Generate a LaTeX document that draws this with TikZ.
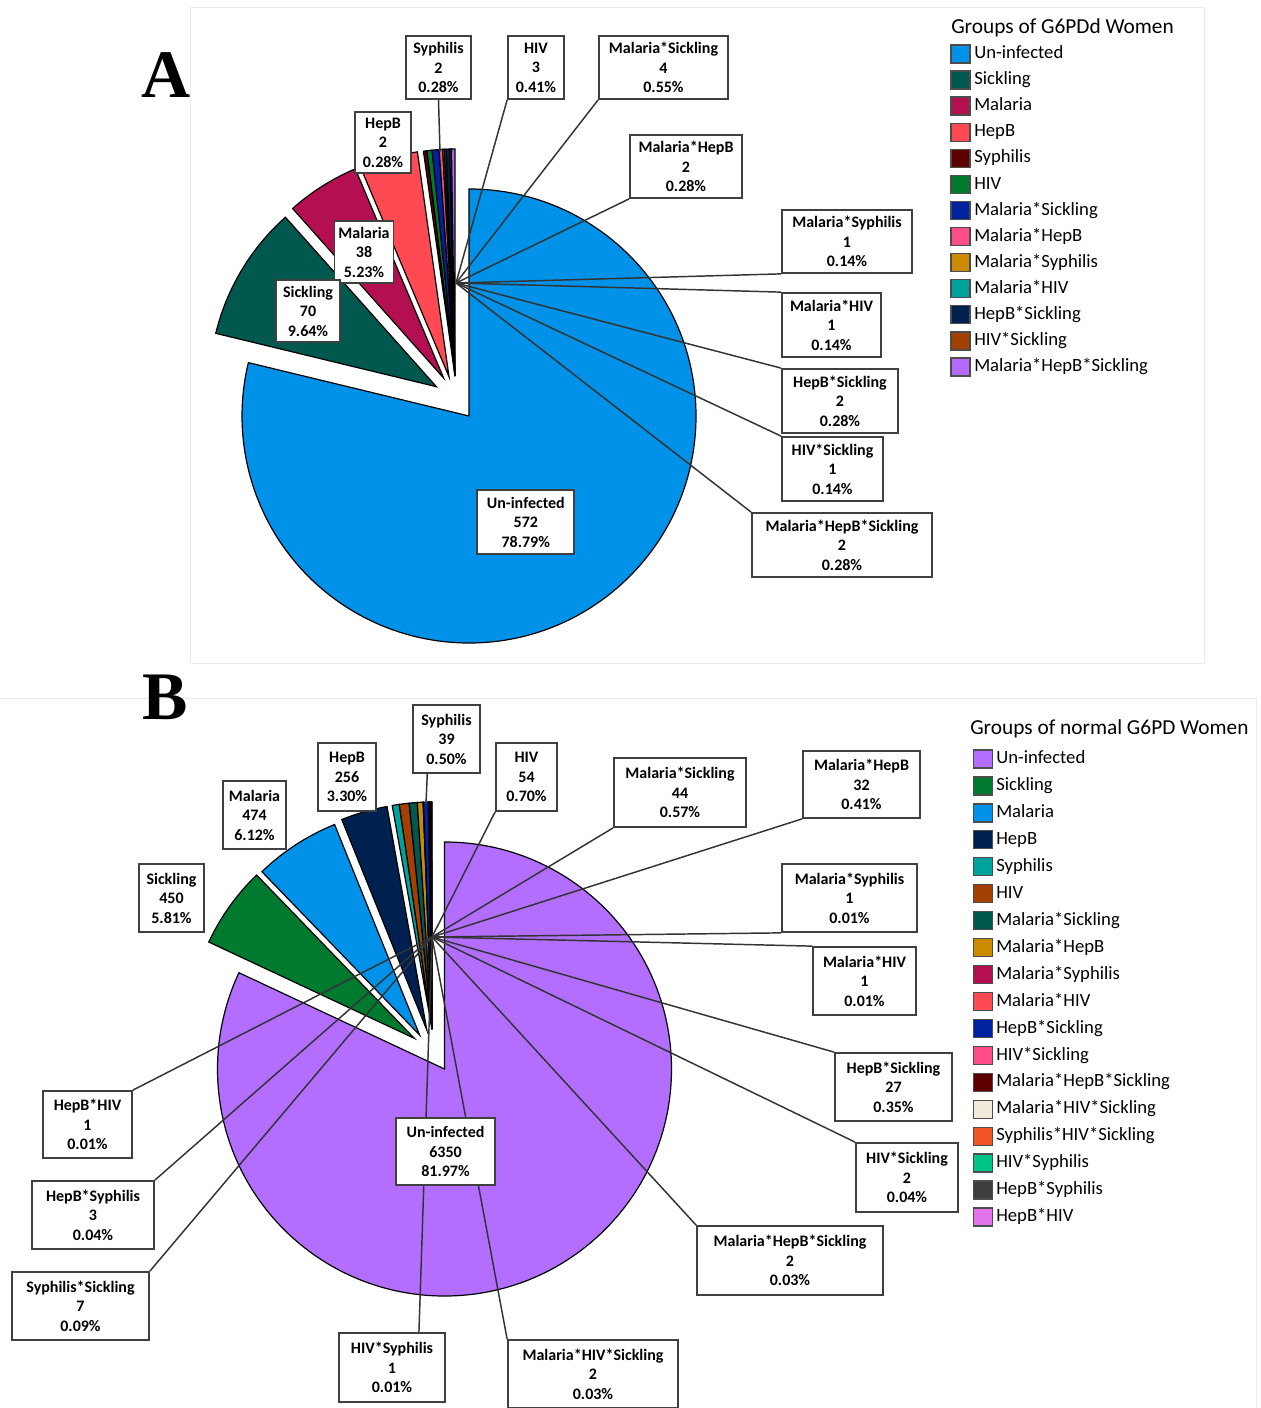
\documentclass[tikz,border=0pt]{standalone}
\usepackage{fontspec}
\setmainfont{Carlito}
\newfontfamily\serifbf{Liberation Serif}
\usetikzlibrary{calc}
\definecolor{cUn}{HTML}{0092E8}
\definecolor{cSick}{HTML}{00584F}
\definecolor{cMal}{HTML}{B40F50}
\definecolor{cHepB}{HTML}{FF4A54}
\definecolor{cSyph}{HTML}{5E0000}
\definecolor{cHIV}{HTML}{007A2E}
\definecolor{cMS}{HTML}{0022A0}
\definecolor{cMH}{HTML}{FF4D8C}
\definecolor{cMSy}{HTML}{CC8A00}
\definecolor{cMHIV}{HTML}{00A39C}
\definecolor{cHS}{HTML}{00204F}
\definecolor{cHIVS}{HTML}{A33F00}
\definecolor{cMHS}{HTML}{B36BFF}
\definecolor{cUnB}{HTML}{B36EFF}
\definecolor{cCream}{HTML}{F2EAD8}
\definecolor{cOrange}{HTML}{F25324}
\definecolor{cHIVSy}{HTML}{00C487}
\definecolor{cGray}{HTML}{3E3E3E}
\definecolor{cOrchid}{HTML}{E273EA}
\newcommand{\pieslice}[6]{\filldraw[slice,fill=#6] (#1,#2) -- ++(#4:#3) arc[start angle=#4,end angle=#5,radius=#3] -- cycle;}
\begin{document}
\begin{tikzpicture}[x=0.75pt,y=-0.75pt,
  slice/.style={draw=black,line width=0.9pt},
  lead/.style={draw=black!80,line width=1.1pt},
  lbox/.style 2 args={draw=black!75,line width=1.3pt,fill=white,inner sep=0pt,align=center,
    font=\bfseries\fontsize{12}{14.6}\selectfont,minimum width=#1*0.75pt,minimum height=#2*0.75pt},
  swatch/.style={draw=black!70,line width=1pt,minimum width=14.25pt,minimum height=13.5pt,inner sep=0pt},
  legtext/.style={anchor=west,inner sep=0pt,font=\fontsize{14}{16}\selectfont,text height=10pt,text depth=3pt},
  ttl/.style={anchor=west,inner sep=0pt,font=\fontsize{16}{19}\selectfont},
  panel/.style={draw=black!8,line width=0.75pt},
  letter/.style={inner sep=0pt,font=\serifbf\bfseries\fontsize{51}{51}\selectfont}]
\useasboundingbox (0,0) rectangle (1260,1408);
% panel frames
\draw[panel] (190,8) rectangle (1204,663);
\draw[panel] (0,698) -- (1256,698) -- (1256,1408);
\node[letter] (letA) at (166,75) {A};
\node[letter] (letB) at (165,697) {B};

% ---------------- Pie A ----------------
\pieslice{469}{416}{227}{-90}{193.6}{cUn}
\pieslice{436.4}{386.7}{227}{-166.4}{-131.7}{cSick}
\pieslice{443.6}{378}{227}{-131.7}{-112.9}{cMal}
\pieslice{449}{376.7}{227}{-112.9}{-98}{cHepB}
\pieslice{455}{376}{227}{-98}{-97.111}{cSyph}
\pieslice{455}{376}{227}{-97.111}{-95.778}{cHIV}
\pieslice{455}{376}{227}{-95.778}{-94.0}{cMS}
\pieslice{455}{376}{227}{-94.0}{-93.111}{cMH}
\pieslice{455}{376}{227}{-93.111}{-92.667}{cMSy}
\pieslice{455}{376}{227}{-92.667}{-92.222}{cMHIV}
\pieslice{455}{376}{227}{-92.222}{-91.333}{cHS}
\pieslice{455}{376}{227}{-91.333}{-90.889}{cHIVS}
\pieslice{455}{376}{227}{-90.889}{-90}{cMHS}

\coordinate (cA) at (456,283);
\coordinate (cAs) at (440,152);

\node[lbox={65}{63}] (aSyph) at (438.5,67.5) {Syphilis\\2\\0.28\%};
\node[lbox={56}{63}] (aHIV) at (536,67.5) {HIV\\3\\0.41\%};
\node[lbox={129}{63}] (aMS) at (663.5,67.5) {Malaria*Sickling\\4\\0.55\%};
\node[lbox={112}{63}] (aMH) at (686,166.5) {Malaria*HepB\\2\\0.28\%};
\node[lbox={130}{63}] (aMSy) at (847,241.5) {Malaria*Syphilis\\1\\0.14\%};
\node[lbox={99}{64}] (aMHIV) at (831.5,325) {Malaria*HIV\\1\\0.14\%};
\node[lbox={116}{64}] (aHS) at (840,401) {HepB*Sickling\\2\\0.28\%};
\node[lbox={101}{64}] (aHIVS) at (832.5,469) {HIV*Sickling\\1\\0.14\%};
\node[lbox={180}{64}] (aMHS) at (842,545) {Malaria*HepB*Sickling\\2\\0.28\%};

\draw[lead] (aSyph.south) -- (cAs);
\draw[lead] (aHIV.south west) -- (cA);
\draw[lead] (aMS.south west) -- (cA);
\draw[lead] (aMH.south west) -- (cA);
\draw[lead] (aMSy.south west) -- (cA);
\draw[lead] (aMHIV.north west) -- (cA);
\draw[lead] (aHS.north west) -- (cA);
\draw[lead] (aHIVS.north west) -- (cA);
\draw[lead] (aMHS.north west) -- (cA);

\node[lbox={56}{61}] (aHepB) at (383,142.5) {HepB\\2\\0.28\%};
\node[lbox={59}{62}] (aMal) at (364,252) {Malaria\\38\\5.23\%};
\node[lbox={64}{62}] (aSick) at (308,311) {Sickling\\70\\9.64\%};
\node[lbox={97}{64}] (aUn) at (525.8,522) {Un-infected\\572\\78.79\%};

% legend A
\node[ttl] (ttlA) at (951,28) {Groups of G6PDd Women};
\foreach \cc/\lbl [count=\k from 0] in {cUn/Un-infected,cSick/Sickling,cMal/Malaria,cHepB/HepB,cSyph/Syphilis,cHIV/HIV,cMS/Malaria*Sickling,cMH/Malaria*HepB,cMSy/Malaria*Syphilis,cMHIV/Malaria*HIV,cHS/HepB*Sickling,cHIVS/HIV*Sickling,cMHS/Malaria*HepB*Sickling}{
  \node[swatch,fill=\cc] (lAs\k) at (960.5,54+26.08*\k) {};
  \node[legtext] (lAt\k) at (974,54+26.08*\k) {\lbl};
}

% ---------------- Pie B ----------------
\pieslice{444.5}{1069}{227}{-90}{205.1}{cUnB}
\pieslice{414.3}{1038.3}{227}{-154.9}{-134.0}{cHIV}
\pieslice{419.6}{1035}{227}{-134.0}{-112.0}{cUn}
\pieslice{426.8}{1030}{227}{-112.0}{-100.1}{cHS}
\pieslice{432}{1029}{227}{-100.1}{-98.296}{cMHIV}
\pieslice{432}{1029}{227}{-98.296}{-95.771}{cHIVS}
\pieslice{432}{1029}{227}{-95.771}{-93.715}{cSick}
\pieslice{432}{1029}{227}{-93.715}{-92.236}{cMSy}
\pieslice{432}{1029}{227}{-92.236}{-92.200}{cMal}
\pieslice{432}{1029}{227}{-92.200}{-92.164}{cHepB}
\pieslice{432}{1029}{227}{-92.164}{-90.902}{cMS}
\pieslice{432}{1029}{227}{-90.902}{-90.758}{cMH}
\pieslice{432}{1029}{227}{-90.758}{-90.650}{cSyph}
\pieslice{432}{1029}{227}{-90.650}{-90.542}{cCream}
\pieslice{432}{1029}{227}{-90.542}{-90.217}{cOrange}
\pieslice{432}{1029}{227}{-90.217}{-90.181}{cHIVSy}
\pieslice{432}{1029}{227}{-90.181}{-90.037}{cGray}
\pieslice{432}{1029}{227}{-90.037}{-90}{cOrchid}

\coordinate (cB) at (432,937);
\coordinate (cBs) at (426,804);

\node[lbox={67}{68}] (bSyph) at (446.5,739) {Syphilis\\39\\0.50\%};
\node[lbox={61}{68}] (bHIV) at (526.5,777) {HIV\\54\\0.70\%};
\node[lbox={132}{69}] (bMS) at (680,792.5) {Malaria*Sickling\\44\\0.57\%};
\node[lbox={117}{67}] (bMH) at (861.5,784.5) {Malaria*HepB\\32\\0.41\%};
\node[lbox={135}{68}] (bMSy) at (849.5,898) {Malaria*Syphilis\\1\\0.01\%};
\node[lbox={103}{68}] (bMHIV) at (864.5,981) {Malaria*HIV\\1\\0.01\%};
\node[lbox={117}{68}] (bHS) at (893.5,1087) {HepB*Sickling\\27\\0.35\%};
\node[lbox={102}{69}] (bHIVS) at (907,1177.5) {HIV*Sickling\\2\\0.04\%};
\node[lbox={186}{69}] (bMHS) at (790,1260.5) {Malaria*HepB*Sickling\\2\\0.03\%};
\node[lbox={170}{68}] (bMHIVS) at (593,1374) {Malaria*HIV*Sickling\\2\\0.03\%};
\node[lbox={106}{69}] (bHIVSy) at (392,1367.5) {HIV*Syphilis\\1\\0.01\%};
\node[lbox={89}{67}] (bHHIV) at (87.5,1124.5) {HepB*HIV\\1\\0.01\%};
\node[lbox={122}{68}] (bHSy) at (93,1215) {HepB*Syphilis\\3\\0.04\%};
\node[lbox={137}{68}] (bSS) at (80.5,1306) {Syphilis*Sickling\\7\\0.09\%};

\draw[lead] ($(bSyph.south west)!0.22!(bSyph.south east)$) -- (cBs);
\draw[lead] (bHIV.south west) -- (cB);
\draw[lead] (bMS.south west) -- (cB);
\draw[lead] (bMH.south west) -- (cB);
\draw[lead] (bMSy.south west) -- (cB);
\draw[lead] (bMHIV.north west) -- (cB);
\draw[lead] (bHS.north west) -- (cB);
\draw[lead] (bHIVS.north west) -- (cB);
\draw[lead] (bMHS.north west) -- (cB);
\draw[lead] (bMHIVS.north west) -- (cB);
\draw[lead] ($(bHIVSy.north west)!0.75!(bHIVSy.north east)$) -- (cB);
\draw[lead] (bHHIV.north east) -- (cB);
\draw[lead] (bHSy.north east) -- (cB);
\draw[lead] (bSS.north east) -- (cB);

\node[lbox={58}{68}] (bHepB) at (347,777) {HepB\\256\\3.30\%};
\node[lbox={63}{68}] (bMal) at (254.5,815) {Malaria\\474\\6.12\%};
\node[lbox={65}{68}] (bSick) at (171.5,898) {Sickling\\450\\5.81\%};
\node[lbox={99}{67}] (bUn) at (445.5,1151.5) {Un-infected\\6350\\81.97\%};

% legend B
\node[ttl] (ttlB) at (970,729) {Groups of normal G6PD Women};
\foreach \cc/\lbl [count=\k from 0] in {cUnB/Un-infected,cHIV/Sickling,cUn/Malaria,cHS/HepB,cMHIV/Syphilis,cHIVS/HIV,cSick/Malaria*Sickling,cMSy/Malaria*HepB,cMal/Malaria*Syphilis,cHepB/Malaria*HIV,cMS/HepB*Sickling,cMH/HIV*Sickling,cSyph/Malaria*HepB*Sickling,cCream/Malaria*HIV*Sickling,cOrange/Syphilis*HIV*Sickling,cHIVSy/HIV*Syphilis,cGray/HepB*Syphilis,cOrchid/HepB*HIV}{
  \node[swatch,fill=\cc] (lBs\k) at (983,759+26.94*\k) {};
  \node[legtext] (lBt\k) at (996,759+26.94*\k) {\lbl};
}
\end{tikzpicture}
\end{document}
